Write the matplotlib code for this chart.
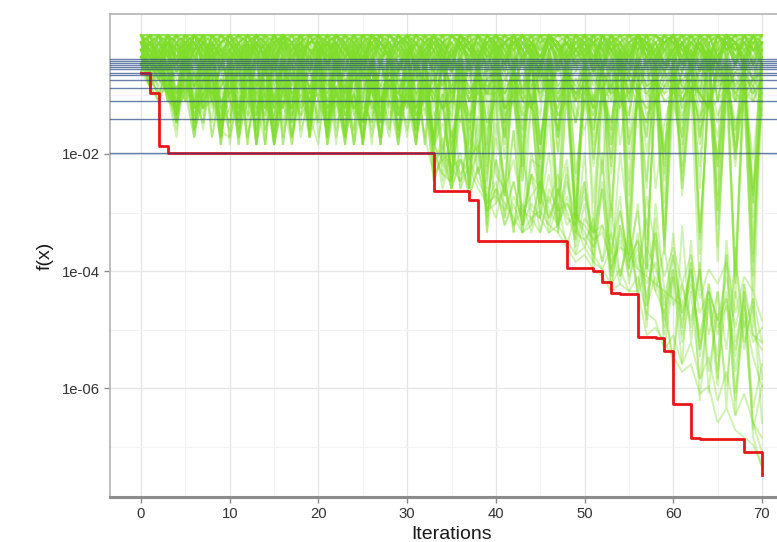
import numpy as np
import matplotlib
matplotlib.use("Agg")
import matplotlib.pyplot as plt
from matplotlib.ticker import FixedLocator, NullFormatter

plt.rcParams['font.family'] = ['Liberation Sans', 'DejaVu Sans']

# ---------------- data ----------------
iterations = list(range(71))

# best-so-far f(x) (red step line), stored as log10 values
best_log10 = [
    -0.62, -0.96, -1.86,
    -1.99, -1.99, -1.99, -1.99, -1.99, -1.99, -1.99, -1.99, -1.99, -1.99,
    -1.99, -1.99, -1.99, -1.99, -1.99, -1.99, -1.99, -1.99, -1.99, -1.99,
    -1.99, -1.99, -1.99, -1.99, -1.99, -1.99, -1.99, -1.99, -1.99, -1.99,
    -2.63, -2.63, -2.63, -2.63, -2.79,
    -3.48, -3.48, -3.48, -3.48, -3.48, -3.48, -3.48, -3.48, -3.48, -3.48,
    -3.95, -3.95, -3.95, -4.00, -4.18, -4.37, -4.40, -4.40,
    -5.12, -5.12, -5.15, -5.37, -6.27, -6.27, -6.85,
    -6.88, -6.88, -6.88, -6.88, -6.88, -7.09, -7.09, -7.49,
]

# horizontal reference levels (blue), log10 values
hline_log10 = [-0.376, -0.41, -0.444, -0.479, -0.513, -0.552, -0.61,
               -0.655, -0.735, -0.877, -1.094, -1.407, -1.991]

# particle traces (green): one character per iteration.
# Level code: 0-9, a-z, A-Z -> 0..61 ; log10 f = GREEN_TOP - level * GREEN_STEP
GREEN_TOP = 0.03
GREEN_STEP = 0.125
LEVEL_CHARS = "0123456789abcdefghijklmnopqrstuvwxyzABCDEFGHIJKLMNOPQRSTUVWXYZ"

traces_top = [
    "1203140213 04130a4103 1420318201 30124c1302 1302410230 2140392041 0312403120 2",
    "0314021302 2031f02140 0213024031 1402130240 3102a41302 0130241302 4102301402 1",
    "2031203402 1302410623 0142031402 3021402130 2403120d41 3120412031 0241302140 3",
    "3120410231 4021302140 213e023041 0230140213 1402031420 4302130240 1302812041 0",
    "1402312043 0214031208 3102403120 4130231402 0213042031 2041302130 3142031204 2",
    "0230412013 2401302140 3021b41302 0142301420 2130240213 1402031402 2031420130 4",
    "4021301420 1320413021 0413024130 2304120f31 3140230142 0231420312 1403021402 1",
    "2130420314 0241302031 4120314021 3041201302 4203140213 1302910240 0214302130 3",
    "0312041302 3140207130 2031402130 1420314032 0134021402 3021402130 4130241302 0",
    "1024130240 2103140231 0240132041 3102401324 1402130203 2413024031 0312403021 2",
    "3041203120 4203120941 1302402130 2140312031 0312040214 1402130420 2031402130 4",
    "2140320413 0312041302 4013201402 0231402130 2104130240 3102413021 4102031402 1",
    "0231401320 2413020413 1302041320 4120302413 0241302140 2130420314 0241302140 3",
    "4102031402 1340210324 0213140230 1420213041 3120402130 0412031420 1302410230 2",
    "1320412031 0241302410 3140210324 2031402130 1420130420 3041201324 2130402140 0",
    "0413021403 2130420140 2401302413 0312041302 4021302140 1302410231 0412031402 4",
    "2041302514 1302403125 0314205130 2405130241 3012504132 0251403120 3140520314 1",
    "1350214032 4102531402 3205140213 0314025130 2140351402 1350214032 0421530142 3",
    "0142503124 2510314205 1403251024 3150241305 0413205142 2504130251 1305240132 0",
    "3205142031 0142503214 2031450213 1425030142 3510241305 0142350214 2514032051 4",
    "4130251403 3250142031 1425031402 0513240153 2041350124 3120451302 0352140325 2",
    "0524130241 1403250314 3051420135 2410353024 1352041302 4025130241 3140250413 1",
    "2413052140 0351240132 4120530241 1304251403 0251340521 1403520314 2051340120 3",
    "1250314025 2041351204 0325140312 4130520143 2504130241 0315240135 1402531204 0",
    "3041520314 1520431025 2143052014 0251430251 1403250314 2530142053 0241350412 2",
    "0315240132 4013520143 1502413025 3140250431 0253140212 1402530142 3025140312 4",
    "5203140251 0314205312 2401530241 1520341203 3041250143 0512430215 2140530241 1",
    "1042530142 3250140325 0413520143 2031450213 5102430251 3024150342 0513240153 3",
    "2530142053 1402350214 3150240135 0425130524 1302540132 4150230514 2031450213 0",
    "0251403125 4130251402 2053140214 3142053140 2410350214 0352140325 1425031402 2",
    "4102530413 0253140521 1402350132 2510341205 0351240513 2041530124 3150240351 4",
    "1305240132 2415030241 3052140325 1402530241 4120350412 1503240135 0241530214 1",
    "0001001000 1000010001 0010000100 0100010000 1000100010 0001000010 0100001000 0",
    "1000100001 0010001000 0100100001 0001000100 0010000100 1000100001 0010010000 1",
    "0100001001 0001000010 1000010001 0010100000 0100001001 0010000100 0001001000 0",
    "0010010000 1000100100 0001000010 1000001001 0001010000 0100001001 1000100010 0",
    "1001000100 0100000100 0010001001 0001000100 1000010000 0010100001 0100001000 1",
    "0000100010 0010010000 1000100001 0100100000 0010001000 1001000100 0010000101 0",
    "0100010000 1001000010 0001001000 1000000101 0100100001 0000100010 1000100000 1",
    "1000010100 0010001000 0100100010 0010001000 1001000010 0100010001 0001000100 0",
    "0010100001 0100010001 0001000100 1000100010 0010000100 0001001000 1000010010 0",
    "0001000010 1000100100 0100010000 0010001001 0100100000 1000010001 0010100001 1",
]

traces_upper = [
    "3572816493 7258136947 2681593746 8135729468 1592748365 2917846352 8146372958 4",
    "4628173594 2739518462 9147263858 3625917484 7318264957 4926385171 6385297146 2",
    "2749381652 8163947253 5294817636 1873526949 3648192757 9527364185 2739461858 6",
    "5136927484 6291847359 3817264952 7468193528 2953718464 6184953727 4527193864 1",
    "1687352941 9357268143 6429183575 2916473858 5183946272 3748261955 7194628353 7",
    "3458192763 4816273959 8263519474 5397284616 9264817359 1583926474 3962718546 5",
    "2361847597 5184936272 3758264191 9642718355 4719362858 8265394172 6348192757 3",
    "4725913684 2963584718 7185342969 3847196252 6328459173 5197283646 1853976424 8",
    "1593467289 8437192656 4916835727 6283549171 2857163948 7342916585 9518264736 2",
    "5284671937 3619825479 2748361955 1596427388 8473195262 4619528373 2784615939 6",
    "4567867594 6857496875 7948657968 5869476958 8675947869 6958768497 5786948567 9",
    "5468795a86 7596a84769 8a67958476 6a79485968 7859a69478 9687a57896 4978a68579 6",
    "3796584a97 5a68794859 6847a95768 9568a74986 5a97684759 8479658a67 7658a94786 8",
    "2685a79648 8759a68497 4968758a69 7486a95867 6859749a68 5a68794869 8697a58476 7",
    "5749768a59 9678a54867 7a59684978 4897a65789 9768a58496 6a57984768 5968a47986 5",
    "4758a76489 6a87594678 5976a84859 8649a75968 4a86957968 7958468a97 6849a57689 9",
    "3768497586 8596a74869 9487a65978 5768a94857 7a59486976 8496a75869 9578a46897 4",
    "1796a85469 7a58694857 6859a74968 9476a85796 5869a74859 6a97584768 7968a54978 6",
]

traces_mid = [
    "2358a37162 9c2f4a1b38 2e19d05c27 a3f28b14g6 2a5c8h3e19 4b7d2f9c3j 5a2e8c4g17 b",
    "1460928c3a 5f17b3d60e 2a8c15f39b 4d72g9a3e5 1b6f3k8d2c 7a4i2e6b9g 3f7c1k5d8h 4",
    "3527b06d29 c4a18e3f6b 0d5a29c47f 2b8e4a1h6c 9m3g7b2e5a d8j3f6a2lc 7e4b9i3g6n 2",
    "0245813a6d 2e9b4f7c1a 5b3e8d2f6a 9c4g1e7b3i 6d2k9f4b8p 3h7c2m9e5q 4a8i2o7d3s 6",
    "4136a2c85e 1b7d3f9a2c 6e1a8c4f2b 7d3f9k2h5c 1a8e3n6g2j 9b4p2f8l3u 6c2r9h4w7m a",
    "2357c4a19e 3f6b2d8a4c 1e7b5f3d9a 2c8f4l7e1j 5b9g3e7o2k 8d4s2h9c6t 3j7e2v5g9x 4",
    "1264b5d38a 6c2f9b4e7d 3a8f2c6e1b 9f5d2g8c4h 3e7b2i9d5q 2f8c4k7x3g 9e2u6b8y4n 1",
    "3148e2b67c a3e7c1f5b9 4d2b8e6a3f 5b7e2f9l3d 8c4i2f6b9r 4g9d2w6k3n 5b8z2i7e4E 7",
    "2461c3a05f 4b1e6c2d8a 3f5b9e1c7d 2a6e3h9c5k 4f8d2l6b9o 3i7e1q5g8s 2k6d9m3h7p 5",
    "1352a8e4c1 f6b3d9a2e7 c4f1b8d3a6 e2b5g7c3j1 8e4b9m2g6q 5c8h2r7e3t 9g4l1o6i3u 8",
    "3246b1d97c 2e5a8f3b6d 1a9e4c7f2b 8d3a6e9i4f 2c7k3f8a5n 9e3j6b2s8h 4m7c2q9f5v 3",
    "0357d2b6a4 e8c1f5a3d9 6b2e9c4f1a 5e8c3g6b9l 3h5d8p2e6c 4n8f3u7d2k 6i3r8e5x2l 9",
    "4235c7e19b 3d6f2a8e5c b1d7f3a9e4 2f6b8j3d7e 5a9i2f6m3r 7d4o8c2w5g 3l8f2t6c9z 4",
    "2148a5c3e6 9b4f1d7a2e 5c8a3f6b2d 7f2e9k4c8g 1e6a9h3q7c 2r6f9b4v8i 5d3s7h2A6m 1",
]

traces_deep = [
    "2136a4c81f 3b6d2f8a4e 1c7f3b9e5d 2a6f8k4l2r 6m3q9p2r7o ks9wgqzmtE uCwHzKAOyS M",
    "0354b2e71c 5a2f7c3e9b 4d8a2f6c1e 7b3fhl9k3p ck7rgmbqjt nvhxquoBrF wGzLBIuNDR V",
    "1425937b2d 8e3a6f1c5b 2f9d4b7e3a c5e2kf8l4q 9pdrhiqlos gwkumyrDpH xJsOAMuQzT X",
    "3247a1d60e 4c7b2f9a3d 6e1c8f4b2a 9d3iekbhfn ekrfopjqiu prlzqwtAsC IyEwKCMzGB L",
    "2513c4972a d1f6a3e8b4 c2e7f5a9d1 6f2gaj5lbr hmdqjngrkp ltgxovsEnz KqGvNzPtHA R",
    "4362b1a85f 2d9c4e7a1b f3b6d2e8c5 a4f7i3lcje nbrgqkpmhs kulyrwnBxD rFvIyLsGAP J",
    "1234825a3c 7a2e5c9f3b 4c8e1f6b3d 2e7kglhmio lqnrpoqrtv uwxzyzzFEG IKJNMRPSTU X",
    "3152a6c3e7 b5f2d8a4c1 e6a3f9c2b7 d8ejhgkiln mokqnprqsu tvwywzxCDH FJGLIOKQNR T",
    "2405b3d91a c4e8b2f6a3 9d1f5c7e2b 8a4fcikeg9 jlhomknjpq mrqtovswrx tyuAwyvCxz D",
    "1346b2a07d e3b9f1c5a8 2f7d4a9c6e 3bagjdliem hpkqjlrnto sqvnxrwpzt ByDwFzHvEA G",
    "2547a39c6b 4a8c3b7e5d 9c4b8e6a3d 5b9elgjhkm pkqnrmplqo rtqwsxuyvB wCyFzDAHBG E",
    "1638b4a79c 5c2a9d6b8e 3b7d5a9c4e 8d6iflhjgn kqmpjrlonq tpvrxsztwA uDxGyEBIzF H",
    "3429a6b85d 7b4d8a6c3e a5c9e2b7d4 6c8kgihlfo lnprqkoqmr suwtyqAvzC xEvHAFzKCI M",
    "2518c3a96e 6d3b8e5a7c 4e8a6d3b9f 7a5hjkgmio nlqoprmqnp qsrvtuwxyz ABwCzDxEyF G",
]

y_major = [1e-6, 1e-4, 1e-2]
y_major_labels = ["1e-06", "1e-04", "1e-02"]
y_minor = [1e-7, 1e-5, 1e-3, 1e-1]
x_major = [0, 10, 20, 30, 40, 50, 60, 70]
x_minor = [5, 15, 25, 35, 45, 55, 65]


def decode(trace):
    s = trace.replace(" ", "")
    if len(s) != len(iterations):
        raise ValueError(f"bad trace length {len(s)}: {trace}")
    lv = np.array([LEVEL_CHARS.index(c) for c in s], dtype=float)
    return 10 ** (GREEN_TOP - lv * GREEN_STEP)


# ---------------- figure ----------------
W, H = 777, 542
fig = plt.figure(figsize=(W / 100, H / 100), dpi=100)
left_px, right_px, top_px, bottom_px = 110, 793, 14, 497
ax = fig.add_axes([left_px / W, 1 - bottom_px / H,
                   (right_px - left_px) / W, (bottom_px - top_px) / H])

ax.set_yscale('log')
ax.set_xlim(-3.5, 73.5)
ax.set_ylim(10 ** -7.863, 10 ** 0.393)

green = '#7fdd2a'
for tr in traces_top + traces_upper + traces_mid + traces_deep:
    ax.plot(iterations, decode(tr), color=green, alpha=0.36, lw=1.4,
            solid_joinstyle='miter', zorder=2)

ax.plot(iterations, 10 ** np.array(best_log10), color='#e8151b', lw=2.0,
        drawstyle='steps-post', zorder=3)

for h in hline_log10:
    ax.axhline(10 ** h, color='#24447f', alpha=0.68, lw=1.0, zorder=4)

# ticks and grid
ax.yaxis.set_major_locator(FixedLocator(y_major))
ax.set_yticklabels(y_major_labels)
ax.yaxis.set_minor_locator(FixedLocator(y_minor))
ax.yaxis.set_minor_formatter(NullFormatter())
ax.xaxis.set_major_locator(FixedLocator(x_major))
ax.xaxis.set_minor_locator(FixedLocator(x_minor))

ax.grid(which='major', color='#e6e6e6', lw=1.0, zorder=0)
ax.grid(which='minor', color='#f2f2f2', lw=0.8, zorder=0)
ax.set_axisbelow(True)

ax.tick_params(which='major', length=4.5, width=1.0, color='#8a8a8a',
               labelsize=10.7, labelcolor='#333333', pad=3)
ax.tick_params(which='minor', length=0)

for side in ['left', 'top', 'right']:
    ax.spines[side].set_color('#b3b3b3')
    ax.spines[side].set_linewidth(1.2)
ax.spines['bottom'].set_color('#8c8c8c')
ax.spines['bottom'].set_linewidth(2.2)

ax.set_xlabel('Iterations', fontsize=14, color='#1a1a1a', labelpad=3)
ax.set_ylabel('f(x)', fontsize=14, color='#1a1a1a', labelpad=6)

fig.savefig('out.png', dpi=100)
